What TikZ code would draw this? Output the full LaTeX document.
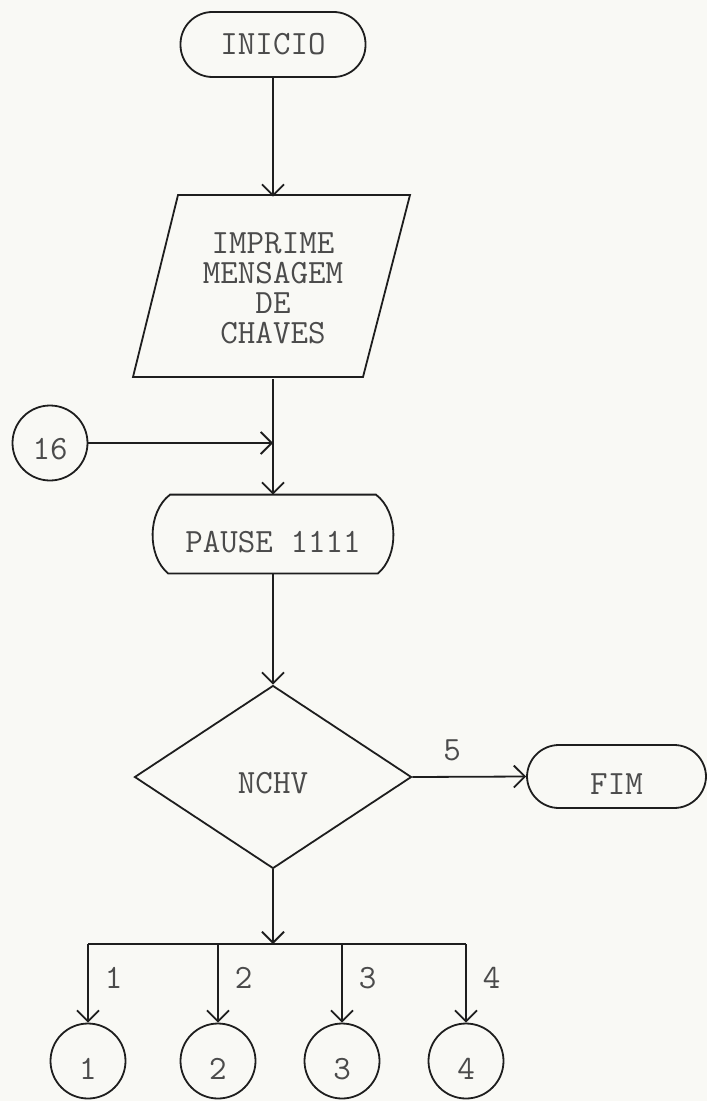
\documentclass[tikz,border=0pt]{standalone}
\usepackage{fontspec}
\usetikzlibrary{shapes.geometric,arrows.meta}
\definecolor{paper}{RGB}{249,249,245}
\definecolor{ink}{RGB}{30,30,30}
\definecolor{txt}{RGB}{75,75,75}
\tikzset{
  every node/.style={font=\ttfamily\fontsize{17}{15}\selectfont, text=txt},
  conn/.style={draw=ink, line width=0.9pt},
  arr/.style={conn, -{Straight Barb[length=5.5pt,width=11pt,line width=0.9pt]}},
  terminal/.style={draw=ink, line width=0.9pt, rectangle, rounded corners=16pt, inner sep=0pt},
  connector/.style={draw=ink, line width=0.9pt, circle, minimum size=37.5pt, inner sep=0pt},
  decision/.style={draw=ink, line width=0.9pt, diamond, minimum width=138.5pt, minimum height=91.5pt, inner sep=0pt},
  low/.style={text height=18pt, text depth=0pt},
  lowish/.style={text height=16.5pt, text depth=0pt},
  lbl/.style={anchor=west, inner sep=0pt, xshift=8pt}
}
\begin{document}
\begin{tikzpicture}[x=0.5pt,y=-0.5pt]
\fill[paper] (0,0) rectangle (707,1101);
\useasboundingbox (0,0) rectangle (707,1101);

% INICIO
\node[terminal, minimum width=92.5pt, minimum height=32.5pt] (inicio) at (273,44.5) {INICIO};

% print (parallelogram)
\node[minimum width=110pt, minimum height=91pt, inner sep=0pt, align=center] (print) at (273,288) {IMPRIME\\MENSAGEM\\DE\\CHAVES};
\draw[conn] (178,195) -- (410,195) -- (363,377) -- (133,377) -- cycle;

% connector 16
\node[connector, lowish] (c16) at (50,443) {16};
\coordinate (j16) at (273,443);

% PAUSE
\node[minimum width=119.5pt, minimum height=39pt, inner sep=0pt, low] (pause) at (273,534) {PAUSE 1111};
\draw[conn] ([xshift=8.5pt]pause.north west) -- ([xshift=-8.5pt]pause.north east)
  .. controls ([shift={(3pt,11pt)}]pause.east) and ([shift={(3pt,-11pt)}]pause.east) .. ([xshift=-7.5pt]pause.south east)
  -- ([xshift=7.5pt]pause.south west)
  .. controls ([shift={(-3pt,-11pt)}]pause.west) and ([shift={(-3pt,11pt)}]pause.west) .. cycle;

% decision
\node[decision, lowish] (dec) at (273,777) {NCHV};

% FIM
\node[terminal, minimum width=89.5pt, minimum height=31.5pt, low] (fim) at (616.5,776.5) {FIM};

% bottom connectors
\coordinate (bar) at (273,944);
\coordinate (b1) at (88,944);
\coordinate (b4) at (466,944);
\node[connector, low] (k1) at (88,1061) {1};
\node[connector, low] (k2) at (218,1061) {2};
\node[connector, low] (k3) at (342,1061) {3};
\node[connector, low] (k4) at (466,1061) {4};

% edges
\draw[arr] (inicio.south) -- (print.north);
\draw[arr] (print.south) -- (pause.north);
\draw[arr] (c16.east) -- (j16);
\draw[arr] (pause.south) -- (dec.north);
\draw[arr] (dec.east) -- node[above, pos=0.35, yshift=4pt] {5} (fim.west);
\draw[arr] (dec.south) -- (bar);
\draw[conn] (b1) -- (b4);
\draw[arr] (b1) -- node[lbl, pos=0.43] {1} (k1.north);
\draw[arr] (k2.north |- bar) -- node[lbl, pos=0.43] {2} (k2.north);
\draw[arr] (k3.north |- bar) -- node[lbl, pos=0.43] {3} (k3.north);
\draw[arr] (b4) -- node[lbl, pos=0.43] {4} (k4.north);
\end{tikzpicture}
\end{document}
